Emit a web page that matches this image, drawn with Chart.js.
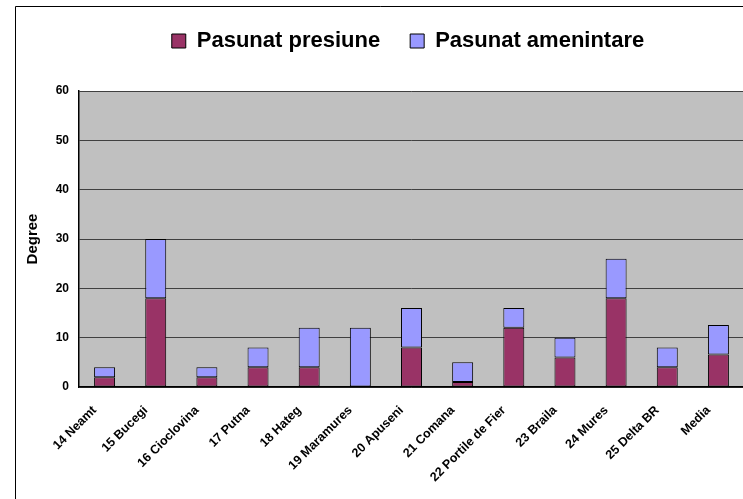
<!DOCTYPE html>
<html>
<head>
<meta charset="utf-8">
<script src="https://cdn.jsdelivr.net/npm/chart.js@4/dist/chart.umd.min.js"></script>
<style>
  html, body { margin: 0; padding: 0; background: #fff; overflow: hidden; }
</style>
</head>
<body>
<canvas id="chart" width="746" height="499"></canvas>
<script>
const categories = ['14 Neamt', '15 Bucegi', '16 Cioclovina', '17 Putna', '18 Hateg', '19 Maramures',
  '20 Apuseni', '21 Comana', '22 Portile de Fier', '23 Braila', '24 Mures', '25 Delta BR', 'Media'];
const presiune = [2, 18, 2, 4, 4, 0, 8, 1, 12, 6, 18, 4, 6.58];
const amenintare = [2, 12, 2, 4, 8, 12, 8, 4, 4, 4, 8, 4, 6];

const FONT = 'Arial, "Liberation Sans", sans-serif';

// white page, frame lines and the grey plot area
const background = {
  id: 'background',
  beforeDraw(chart) {
    const ctx = chart.ctx;
    const a = chart.chartArea;
    ctx.save();
    ctx.fillStyle = '#fff';
    ctx.fillRect(0, 0, chart.width, chart.height);
    ctx.strokeStyle = '#000';
    ctx.lineWidth = 1;
    ctx.beginPath();
    ctx.moveTo(15.5, chart.height);
    ctx.lineTo(15.5, 6.5);
    ctx.lineTo(chart.width, 6.5);
    ctx.stroke();
    ctx.fillStyle = '#c0c0c0';
    ctx.fillRect(a.left, a.top, a.right - a.left, a.bottom - a.top);
    ctx.restore();
  }
};

// move the legend to where the original puts it
const legendShift = {
  id: 'legendShift',
  afterLayout(chart) {
    const dx = 36, dy = -29;
    chart.legend.left += dx;
    chart.legend.right += dx;
    chart.legend.top += dy;
    chart.legend.bottom += dy;
  }
};

new Chart(document.getElementById('chart'), {
  type: 'bar',
  data: {
    labels: categories,
    datasets: [{
      label: 'Pasunat presiune',
      data: presiune,
      backgroundColor: '#993366',
      borderColor: '#000',
      borderWidth: 1,
      borderSkipped: false
    }, {
      label: 'Pasunat amenintare',
      data: amenintare,
      backgroundColor: '#9999ff',
      borderColor: '#000',
      borderWidth: 1,
      borderSkipped: false
    }]
  },
  options: {
    responsive: false,
    animation: false,
    layout: { padding: { top: 29, left: 0, right: 2, bottom: 0 } },
    datasets: {
      bar: { categoryPercentage: 1, barPercentage: 0.41 }
    },
    plugins: {
      tooltip: { enabled: false },
      legend: {
        position: 'top',
        labels: {
          color: '#000',
          font: { family: FONT, size: 22, weight: 'bold' },
          boxWidth: 14,
          boxHeight: 14,
          padding: 30
        }
      }
    },
    scales: {
      x: {
        stacked: true,
        grid: { display: false },
        border: { color: '#000', width: 1.5 },
        ticks: {
          color: '#000',
          font: { family: FONT, size: 12.5, weight: 'bold' },
          minRotation: 45,
          maxRotation: 45,
          padding: 8,
          labelOffset: -10,
          autoSkip: false
        },
        afterFit(scale) { scale.height = 112; }
      },
      y: {
        stacked: true,
        min: 0,
        max: 60,
        grid: { color: '#404040', lineWidth: 1, drawTicks: false },
        border: { color: '#000', width: 1.5 },
        ticks: {
          stepSize: 10,
          color: '#000',
          padding: 10,
          font: { family: FONT, size: 12, weight: 'bold' }
        },
        title: {
          display: true,
          text: 'Degree',
          color: '#000',
          font: { family: FONT, size: 15, weight: 'bold' },
          padding: { top: 24 }
        },
        afterFit(scale) { scale.width = 79; }
      }
    }
  },
  plugins: [background, legendShift]
});
</script>
</body>
</html>
